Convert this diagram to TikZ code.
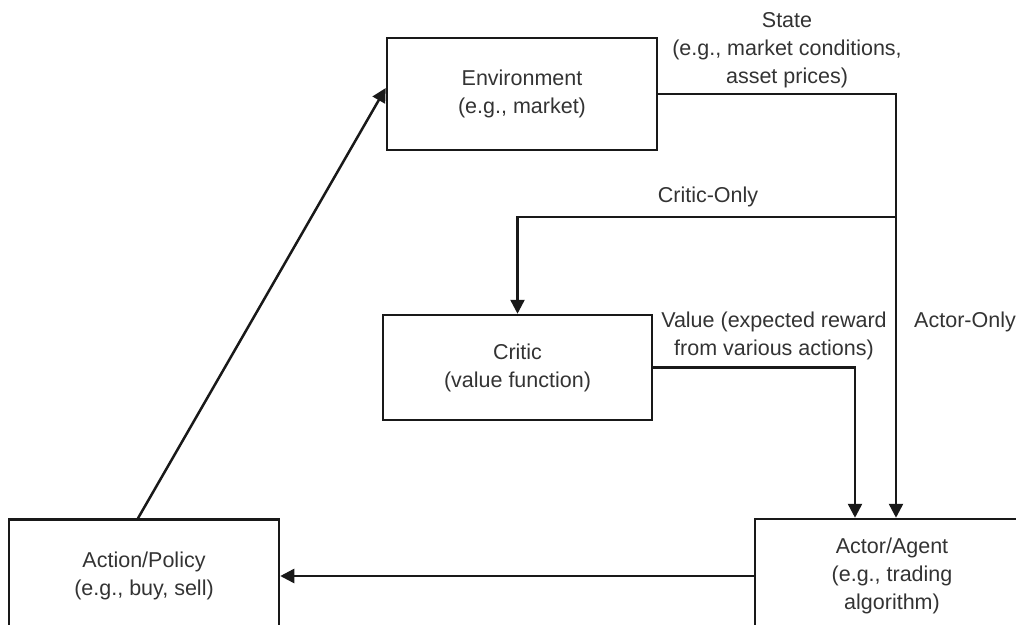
\documentclass[tikz,border=0pt]{standalone}
\usepackage{fontspec}
\setmainfont{Liberation Sans}
\usetikzlibrary{arrows.meta,calc}
\begin{document}
\begin{tikzpicture}[x=1pt, y=-1pt,
      box/.style = {shape=rectangle, draw=black!90, line width=2.5pt,
        align=center, text=black!80, inner sep=0pt},
      lbl/.style = {text=black!80, inner sep=0pt, align=center},
      arr/.style = {draw=black!90, line width=2.5pt,
        -{Triangle[length=14pt, width=14pt]}},
      every node/.append style = {font=\fontsize{21.5}{28}\selectfont}]
      \clip (0,0) rectangle (1016,624);
      \node[box, minimum width=270pt, minimum height=112pt] (env) at (522,94)
        {Environment\\(e.g., market)};
      \node[box, minimum width=269pt, minimum height=105pt] (critic) at (517.5,367.5)
        {Critic\\(value function)};
      \node[box, minimum width=270pt, minimum height=113pt] (action) at (144,576)
        {Action/Policy\\(e.g., buy, sell)};
      \node[box, minimum width=274pt, minimum height=114pt] (actor) at (892,576)
        {Actor/Agent\\(e.g., trading\\algorithm)};
      % labels
      \node[lbl] (state) at (787,50)
        {State\\(e.g., market conditions,\\asset prices)};
      \node[lbl] (criticonly) at (708,197) {Critic-Only};
      \node[lbl] (value) at (774,336)
        {Value (expected reward\\from various actions)};
      \node[lbl] (actoronly) at (965,322) {Actor-Only};
      % connectors
      \coordinate (split) at (896,217);
      \coordinate (valin) at (855,368);
      \draw[arr] (env.east) -| (split |- actor.north);
      \draw[arr] (split) -| (critic.north);
      \draw[arr] (critic.east) -| (valin |- actor.north);
      \draw[arr] (actor.west) -- (action.east);
      \draw[arr] ($(action.north)+(-6,0)$) -- ($(env.west)+(0,-6)$);
\end{tikzpicture}
\end{document}
